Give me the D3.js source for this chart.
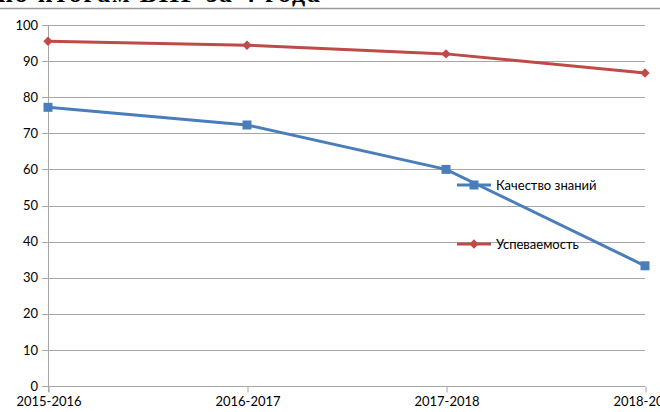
<!DOCTYPE html>
<html>
<head>
<meta charset="utf-8">
<script src="https://cdn.jsdelivr.net/npm/d3@7"></script>
<style>
  body { margin: 0; background: #fff; }
  svg { display: block; }
</style>
</head>
<body>
<div id="chart"></div>
<script>
// данные с графика
var years = ["2015-2016", "2016-2017", "2017-2018", "2018-2019"];
var quality = [77.2, 72.3, 60, 33.3];      // Качество знаний
var progress = [95.5, 94.4, 92, 86.7];     // Успеваемость
var yTicks = [0, 10, 20, 30, 40, 50, 60, 70, 80, 90, 100];

var svgWidth = 660, svgHeight = 412;
var margin = { top: 25, left: 48, right: 15, bottom: 26 };
var width = 645 - margin.left;
var height = 386 - margin.top;

var svg = d3.select("#chart").append("svg")
  .attr("width", svgWidth)
  .attr("height", svgHeight);

// обрезанный заголовок сверху
svg.append("text")
  .attr("x", -2)
  .attr("y", 2)
  .attr("font-family", "Liberation Serif, Times New Roman, serif")
  .attr("font-weight", "bold")
  .attr("font-size", 26)
  .attr("textLength", 322)
  .attr("fill", "#000")
  .text("по итогам ВПР за 4 года");

svg.append("line")
  .attr("x1", 0).attr("x2", svgWidth)
  .attr("y1", 8.5).attr("y2", 8.5)
  .attr("stroke", "#9a9a9a").attr("stroke-width", 1.5);

var g = svg.append("g")
  .attr("transform", `translate(${margin.left}, ${margin.top})`);

var x = d3.scalePoint().domain(years).range([0, width]);
var y = d3.scaleLinear().domain([0, 100]).range([height, 0]);

// сетка
g.append("g")
  .selectAll("line")
  .data(yTicks)
  .enter().append("line")
  .attr("x1", -6).attr("x2", width)
  .attr("y1", d => Math.round(y(d)) + 0.5)
  .attr("y2", d => Math.round(y(d)) + 0.5)
  .attr("stroke", "#a6a6a6");

// ось Y
var leftAxis = d3.axisLeft(y).tickValues(yTicks).tickSize(0).tickPadding(10);
g.append("g").call(leftAxis)
  .call(s => s.select(".domain").remove())
  .selectAll("text")
  .attr("font-family", "Lato, Carlito, sans-serif")
  .attr("font-size", 13)
  .attr("fill", "#000");

g.append("line")
  .attr("x1", 0.5).attr("x2", 0.5)
  .attr("y1", 0).attr("y2", height + 6)
  .attr("stroke", "#a6a6a6");

// ось X
var bottomAxis = d3.axisBottom(x).tickSize(6).tickPadding(4);
var xg = g.append("g")
  .attr("transform", `translate(0.5, ${height + 0.5})`)
  .call(bottomAxis);
xg.select(".domain").remove();
xg.selectAll("line").attr("stroke", "#a6a6a6");
xg.selectAll("text")
  .attr("font-family", "Lato, Carlito, sans-serif")
  .attr("font-size", 13)
  .attr("fill", "#000");

var line = d3.line()
  .x((d, i) => x(years[i]))
  .y(d => y(d));

var blue = "#4a7ebb", red = "#be4b48";
var diamond = d3.symbol().type(d3.symbolDiamond2).size(56);

// Успеваемость
g.append("path")
  .datum(progress)
  .attr("d", line)
  .attr("fill", "none")
  .attr("stroke", red)
  .attr("stroke-width", 3);

g.selectAll(".diamond")
  .data(progress)
  .enter().append("path")
  .attr("class", "diamond")
  .attr("d", diamond)
  .attr("transform", (d, i) => `translate(${x(years[i])}, ${y(d)})`)
  .attr("fill", red);

// Качество знаний
g.append("path")
  .datum(quality)
  .attr("d", line)
  .attr("fill", "none")
  .attr("stroke", blue)
  .attr("stroke-width", 3);

g.selectAll(".square")
  .data(quality)
  .enter().append("rect")
  .attr("class", "square")
  .attr("x", (d, i) => x(years[i]) - 4.5)
  .attr("y", d => y(d) - 4.5)
  .attr("width", 9).attr("height", 9)
  .attr("fill", blue);

// легенда
var legend = svg.append("g");
legend.append("line")
  .attr("x1", 457).attr("x2", 491).attr("y1", 185).attr("y2", 185)
  .attr("stroke", blue).attr("stroke-width", 3);
legend.append("rect")
  .attr("x", 469.5).attr("y", 180.5).attr("width", 9).attr("height", 9)
  .attr("fill", blue);
legend.append("text")
  .attr("x", 496).attr("y", 190)
  .attr("font-family", "Lato, Carlito, sans-serif")
  .attr("font-size", 13)
  .text("Качество знаний");

legend.append("line")
  .attr("x1", 457).attr("x2", 491).attr("y1", 244).attr("y2", 244)
  .attr("stroke", red).attr("stroke-width", 3);
legend.append("path")
  .attr("d", diamond)
  .attr("transform", "translate(474, 244)")
  .attr("fill", red);
legend.append("text")
  .attr("x", 496).attr("y", 249)
  .attr("font-family", "Lato, Carlito, sans-serif")
  .attr("font-size", 13)
  .text("Успеваемость");
</script>
</body>
</html>
